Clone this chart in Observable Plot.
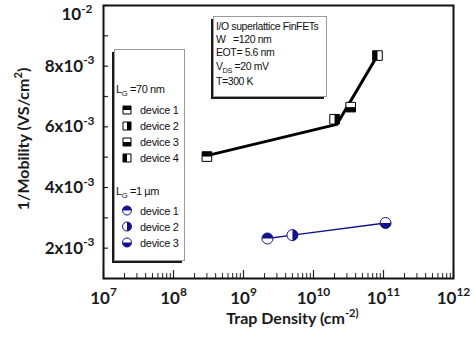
<!DOCTYPE html>
<html><head><meta charset="utf-8">
<script src="https://cdn.jsdelivr.net/npm/d3@7"></script>
<script src="https://cdn.jsdelivr.net/npm/@observablehq/plot@0.6"></script>
<style>body{margin:0;background:#fff} #chart{width:474px;height:337px}</style>
</head><body><div id="chart"></div>
<script>
// ---- data ----
const lg70Devices = ["device 1", "device 2", "device 3", "device 4"];
const lg70Trap = [3.0e8, 2.0e10, 3.4e10, 8.2e10];
const lg70InvMob = [5.02e-3, 6.25e-3, 6.65e-3, 8.35e-3];
const lg70Half = ["top", "right", "bottom", "left"];      // filled (black) half
const lg70FitTrap = [3.0e8, 2.15e10, 8.2e10];
const lg70FitInvMob = [5.05e-3, 6.08e-3, 8.35e-3];

const lg1Devices = ["device 1", "device 2", "device 3"];
const lg1Trap = [2.2e9, 5.0e9, 1.07e11];
const lg1InvMob = [2.32e-3, 2.43e-3, 2.83e-3];
const lg1Half = ["top", "right", "bottom"];

const xTicks = [1e7, 1e8, 1e9, 1e10, 1e11, 1e12];
const xTickLabels = ["10^{7}", "10^{8}", "10^{9}", "10^{10}", "10^{11}", "10^{12}"];
const yTicks = [2e-3, 4e-3, 6e-3, 8e-3, 1e-2];
const yTickLabels = ["2x10^{-3}", "4x10^{-3}", "6x10^{-3}", "8x10^{-3}", "10^{-2}"];
const yMinorTicks = [1e-3, 3e-3, 5e-3, 7e-3, 9e-3];
const xTitle = "Trap Density (cm^{-2)}";
const yTitle = "1/Mobility (VS/cm^{2})";
const infoLines = ["I/O superlattice FinFETs", "W   =120 nm", "EOT= 5.6 nm", "V_{DS} =20 mV", "T=300 K"];
const legend70Title = "L_{G} =70 nm";
const legend1Title = "L_{G} =1 µm";

const xMinorTicks = [];
for (const d of xTicks.slice(0, -1)) for (let k = 2; k <= 9; k++) xMinorTicks.push(d * k);

const NAVY = "#12128a";
const narrow = "'Liberation Sans Narrow', 'Arial Narrow', 'Liberation Sans', Arial, sans-serif";

// ---- half-filled symbols ----
const rOf = s => Math.sqrt(s / Math.PI);
const sq = {
  full: {draw(c, s) { const r = rOf(s); c.rect(-r, -r, 2 * r, 2 * r); }},
  top: {draw(c, s) { const r = rOf(s); c.rect(-r, -r, 2 * r, r); }},
  right: {draw(c, s) { const r = rOf(s); c.rect(0, -r, r, 2 * r); }},
  bottom: {draw(c, s) { const r = rOf(s); c.rect(-r, 0, 2 * r, r); }},
  left: {draw(c, s) { const r = rOf(s); c.rect(-r, -r, r, 2 * r); }}
};
const ci = {
  full: {draw(c, s) { const r = rOf(s); c.moveTo(r, 0); c.arc(0, 0, r, 0, 2 * Math.PI); c.closePath(); }},
  top: {draw(c, s) { const r = rOf(s); c.moveTo(-r, 0); c.arc(0, 0, r, Math.PI, 2 * Math.PI); c.closePath(); }},
  right: {draw(c, s) { const r = rOf(s); c.moveTo(0, -r); c.arc(0, 0, r, -Math.PI / 2, Math.PI / 2); c.closePath(); }},
  bottom: {draw(c, s) { const r = rOf(s); c.moveTo(r, 0); c.arc(0, 0, r, 0, Math.PI); c.closePath(); }},
  left: {draw(c, s) { const r = rOf(s); c.moveTo(0, r); c.arc(0, 0, r, Math.PI / 2, 3 * Math.PI / 2); c.closePath(); }}
};

const lg70 = lg70Trap.map((x, i) => ({x, y: lg70InvMob[i], half: lg70Half[i], name: lg70Devices[i]}));
const lg70Fit = lg70FitTrap.map((x, i) => ({x, y: lg70FitInvMob[i]}));
const lg1 = lg1Trap.map((x, i) => ({x, y: lg1InvMob[i], half: lg1Half[i], name: lg1Devices[i]}));

const W = 474, H = 337, mL = 103, mR = 21, mT = 5, mB = 59;
const innerW = W - mL - mR, innerH = H - mT - mB;

function markerMarks(data, set, r, color) {
  return [
    Plot.dot(data, {x: "x", y: "y", symbol: set.full, r, fill: "white", stroke: "none"}),
    ...["top", "right", "bottom", "left"].map(h =>
      Plot.dot(data, {filter: d => d.half === h, x: "x", y: "y", symbol: set[h], r, fill: color, stroke: "none"})),
    Plot.dot(data, {x: "x", y: "y", symbol: set.full, r, fill: "none", stroke: color, strokeWidth: 1})
  ];
}

const yLab = yTicks.map((v, i) => ({v, label: yTickLabels[i]}));

const plot = Plot.plot({
  width: W, height: H,
  marginLeft: mL, marginRight: mR, marginTop: mT, marginBottom: mB,
  style: {fontFamily: "Lato, 'Open Sans', sans-serif", background: "white", color: "#1a1a1a"},
  x: {type: "log", domain: [1e7, 1e12], axis: null},
  y: {domain: [1e-3, 1e-2], axis: null},
  marks: [
    // ticks (inward)
    Plot.ruleX(xTicks, {x: d => d, insetTop: innerH - 8, stroke: "#222", strokeWidth: 1.2}),
    Plot.ruleX(xMinorTicks, {x: d => d, insetTop: innerH - 5, stroke: "#222", strokeWidth: 1}),
    Plot.ruleY(yTicks.concat(yMinorTicks), {y: d => d, insetRight: innerW - 5, stroke: "#222", strokeWidth: 1.2}),
    // tick labels
    Plot.text(xTicks, {x: d => d, text: (d, i) => xTickLabels[i], frameAnchor: "bottom", dy: 13, lineAnchor: "top",
      fontSize: 17, fontWeight: "bold", fill: "#1a1a1a"}),
    Plot.text(yLab, {filter: d => d.v < 1e-2, y: "v", text: "label", frameAnchor: "left", dx: -9, textAnchor: "end",
      fontSize: 17, fontWeight: "bold", fill: "#1a1a1a"}),
    Plot.text(yLab, {filter: d => d.v >= 1e-2, y: "v", text: "label", frameAnchor: "left", dx: -11, dy: 9, textAnchor: "end",
      fontSize: 17, fontWeight: "bold", fill: "#1a1a1a"}),
    // axis titles
    Plot.text([xTitle], {text: d => d, frameAnchor: "bottom", dy: 45, dx: 14, lineAnchor: "bottom",
      fontSize: 16, fontWeight: "bold", fill: "#1a1a1a"}),
    Plot.text([yTitle], {text: d => d, frameAnchor: "left", dx: -80, dy: -3, rotate: -90, textAnchor: "middle",
      fontSize: 16, fontWeight: "bold", fill: "#1a1a1a"}),
    // data lines
    Plot.line(lg70Fit, {x: "x", y: "y", stroke: "black", strokeWidth: 3}),
    Plot.line(lg1, {x: "x", y: "y", stroke: NAVY, strokeWidth: 1.5}),
    ...markerMarks(lg70, sq, 4.8, "black"),
    ...markerMarks(lg1, ci, 5.5, NAVY),
    Plot.frame({stroke: "#111", strokeWidth: 2})
  ]
});

document.getElementById("chart").appendChild(plot);
const svg = d3.select(plot);

function richText(sel) {
  sel.each(function () {
    const el = d3.select(this);
    const s = el.text();
    if (!/[\^_]\{/.test(s)) return;
    const fs = parseFloat(window.getComputedStyle(this).fontSize) || 12;
    el.text(null);
    let shift = 0;
    const re = /([\^_])\{([^}]*)\}|([^\^_]+)/g;
    let m;
    while ((m = re.exec(s))) {
      const t = el.append("tspan");
      let target = 0, txt = m[3];
      if (m[1]) {
        txt = m[2];
        target = m[1] === "^" ? -0.42 * fs : 0.28 * fs;
        t.attr("font-size", (0.7 * fs) + "px");
      }
      if (target !== shift) t.attr("dy", target - shift);
      shift = target;
      t.text(txt);
    }
  });
}
richText(svg.selectAll("text"));

// ---- legend & info box ----
const g = svg.append("g").attr("font-family", narrow).attr("fill", "#111").attr("text-anchor", "start");
function shadowBox(x, y, w, h) {
  g.append("rect").attr("x", x - 2.5).attr("y", y + 2.5).attr("width", w).attr("height", h).attr("fill", "#1a1a1a");
  g.append("rect").attr("x", x).attr("y", y).attr("width", w).attr("height", h)
    .attr("fill", "white").attr("stroke", "#9a9a9a").attr("stroke-width", 1);
}
shadowBox(114.5, 49.5, 70, 211);
shadowBox(213.5, 16.5, 113, 80);

const infoBase = [30, 43, 56, 70, 85];
infoLines.forEach((t, i) => {
  g.append("text").attr("x", 216).attr("y", infoBase[i]).attr("font-size", 10.5)
    .attr("letter-spacing", -0.4).text(t);
});

function legendItem(set, color, r, half, cx, cy, label) {
  const sym = d3.symbol().size(Math.PI * r * r);
  g.append("path").attr("transform", `translate(${cx},${cy})`).attr("d", sym.type(set.full)()).attr("fill", "white");
  g.append("path").attr("transform", `translate(${cx},${cy})`).attr("d", sym.type(set[half])()).attr("fill", color);
  g.append("path").attr("transform", `translate(${cx},${cy})`).attr("d", sym.type(set.full)())
    .attr("fill", "none").attr("stroke", color).attr("stroke-width", 1);
  g.append("text").attr("x", 140).attr("y", cy + 4).attr("font-size", 11).attr("letter-spacing", -0.3).text(label);
}
g.append("text").attr("x", 116).attr("y", 93).attr("font-size", 11).attr("letter-spacing", -0.4).text(legend70Title);
lg70Devices.forEach((d, i) => legendItem(sq, "black", 4, lg70Half[i], 127, 110 + 16 * i, d));
g.append("text").attr("x", 116).attr("y", 195).attr("font-size", 11).attr("letter-spacing", -0.4).text(legend1Title);
lg1Devices.forEach((d, i) => legendItem(ci, NAVY, 4.5, lg1Half[i], 127, 210.5 + 16 * i, d));
richText(g.selectAll("text"));
</script>
</body></html>
